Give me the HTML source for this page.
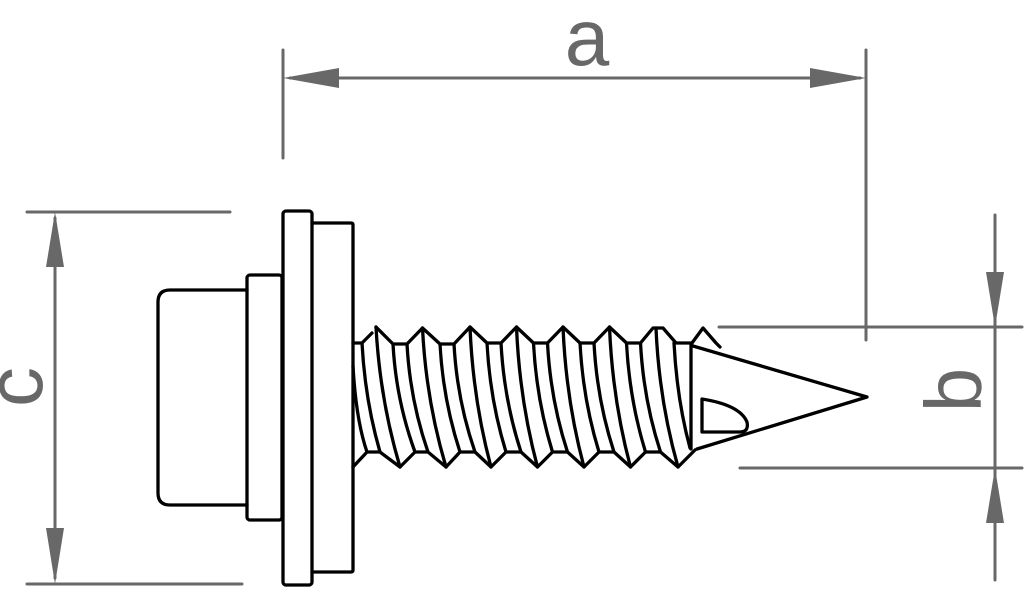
<!DOCTYPE html>
<html>
<head>
<meta charset="utf-8">
<style>
html,body{margin:0;padding:0;background:#fff;}
svg{display:block;}
</style>
</head>
<body>
<svg width="1025" height="615" viewBox="0 0 1025 615" xmlns="http://www.w3.org/2000/svg">
<rect width="1025" height="615" fill="#fff"/>
<!-- Dimension a -->
<g stroke="#686868" stroke-width="3" stroke-linecap="round" fill="none">
  <line x1="283" y1="50" x2="283" y2="158"/>
  <line x1="866" y1="50" x2="866" y2="340"/>
  <line x1="290" y1="78" x2="860" y2="78"/>
  <!-- c -->
  <line x1="27" y1="212" x2="230" y2="212"/>
  <line x1="27" y1="584" x2="242" y2="584"/>
  <line x1="55" y1="218" x2="55" y2="578"/>
  <!-- b -->
  <line x1="719" y1="327" x2="1022" y2="327"/>
  <line x1="740" y1="468" x2="1022" y2="468"/>
  <line x1="995" y1="215" x2="995" y2="580"/>
</g>
<g fill="#686868">
  <polygon points="283,78 339,68 339,88"/>
  <polygon points="866,78 810,68 810,88"/>
  <polygon points="55,212 46,267 64,267"/>
  <polygon points="55,584 46,528 64,528"/>
  <polygon points="995,327 986,272 1004,272"/>
  <polygon points="995,468 986,523 1004,523"/>
</g>
<g fill="#686868" font-family="'Liberation Sans', sans-serif" font-size="80">
  <text x="587" y="65" text-anchor="middle">a</text>
  <text transform="translate(42,387) rotate(-90)" text-anchor="middle">c</text>
  <text transform="translate(981,390) rotate(-90)" text-anchor="middle">b</text>
</g>
<!-- Screw -->
<g stroke="#000" stroke-width="3.3" fill="none" stroke-linejoin="round" stroke-linecap="round">
  <path d="M247,290 L170,290 Q158,290 158,302 L158,493 Q158,505 170,505 L247,505"/>
  <rect x="247" y="275" width="35" height="245" rx="3"/>
  <rect x="283" y="211" width="29" height="374" rx="3"/>
  <path d="M312,223 L351,223 Q353,223 353,225 L353,570 Q353,572 351,572 L312,572"/>
  <!-- top profile -->
  <path d="M353,343 L362,343 L372,333"/>
  <path d="M376,327 L393,344 L407,344 L422.5,328 L440,344 L454,344 L470,327 L487,343 L501,343 L516.5,327 L533.5,343 L547.5,343 L563,327 L580,343 L594,343 L609.5,327 L626.5,343 L640.5,343 L653,328 L663,328 L676,343 L692,343"/>
  <path d="M692,343 L703,328 L716,343 L720,347"/>
  <!-- bottom profile -->
  <path d="M353,467 L367,452 L380,452 L400,467 L415,452 L428,452 L446,467 L460,452 L475,452 L491,467 L506,452 L521,452 L537.5,467 L552.5,452 L567.5,452 L584,467 L599,452 L614,452 L630.5,467 L645.5,452 L660.5,452 L678,467 L695,450"/>
  <!-- thread lines -->
  <path d="M353,366 Q356,420 367,452"/>
  <path d="M362,343 Q365,400 380,452"/>
  <path d="M376,327 Q380,400 400,467"/>
  <path d="M393,344 Q396,400 415,452"/>
  <path d="M407,344 Q410,400 428,452"/>
  <path d="M422.5,328 Q426,400 446,467"/>
  <path d="M440,344 Q443,400 460,452"/>
  <path d="M454,344 Q457,400 475,452"/>
  <path d="M470,327 Q473,400 491,467"/>
  <path d="M487,343 Q490,400 506,452"/>
  <path d="M501,343 Q504,400 521,452"/>
  <path d="M516.5,327 Q519.5,400 537.5,467"/>
  <path d="M533.5,343 Q536.5,400 552.5,452"/>
  <path d="M547.5,343 Q550.5,400 567.5,452"/>
  <path d="M563,327 Q566,400 584,467"/>
  <path d="M580,343 Q583,400 599,452"/>
  <path d="M594,343 Q597,400 614,452"/>
  <path d="M609.5,327 Q612.5,400 630.5,467"/>
  <path d="M626.5,343 Q629.5,400 645.5,452"/>
  <path d="M640.5,343 Q643.5,400 660.5,452"/>
  <path d="M656,328 Q659,400 678,467"/>
  <path d="M674,343 Q677,400 690,448"/>
  <!-- cone -->
  <line x1="691" y1="343" x2="691" y2="449"/>
  <path d="M693,346 L867,397 L697,449"/>
  <path d="M702,399 Q740,405 747,422 Q749,432 740,432 L702,432 Z"/>
</g>
</svg>
</body>
</html>
